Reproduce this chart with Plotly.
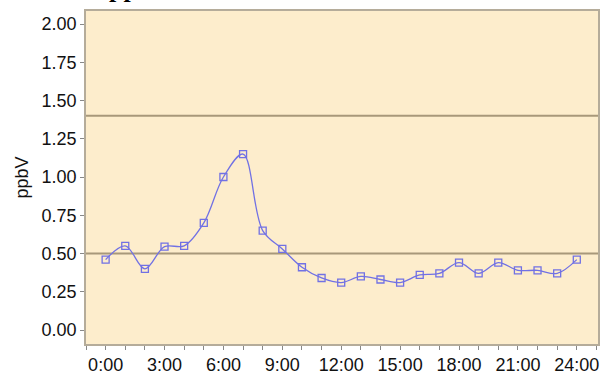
import plotly.graph_objects as go

# Hourly mean mixing ratio over one day
hours = list(range(0, 25))
ppbv = [0.46, 0.55, 0.40, 0.545, 0.55, 0.70, 1.00, 1.15, 0.65, 0.53,
        0.41, 0.34, 0.31, 0.35, 0.33, 0.31, 0.36, 0.37, 0.44, 0.37,
        0.44, 0.39, 0.39, 0.37, 0.46]

x_tick_vals = [0, 3, 6, 9, 12, 15, 18, 21, 24]
x_tick_text = ["0:00", "3:00", "6:00", "9:00", "12:00", "15:00", "18:00", "21:00", "24:00"]
y_tick_vals = [0, 0.25, 0.5, 0.75, 1.0, 1.25, 1.5, 1.75, 2.0]
y_tick_text = ["0.00", "0.25", "0.50", "0.75", "1.00", "1.25", "1.50", "1.75", "2.00"]

# Reference levels drawn across the plot
ref_levels = [0.5, 1.4]

line_col = "#7171E4"
font = dict(family="Arial, Liberation Sans, sans-serif", size=18, color="#111111")

fig = go.Figure()
fig.add_trace(go.Scatter(
    x=hours, y=ppbv, mode="lines+markers",
    line=dict(color=line_col, width=1.3, shape="spline", smoothing=1.0),
    marker=dict(symbol="square-open", size=7, color=line_col, line=dict(width=1.3)),
    showlegend=False,
))

for lvl in ref_levels:
    fig.add_shape(type="line", xref="paper", yref="y", x0=0, x1=1, y0=lvl, y1=lvl,
                  line=dict(color="#A8987A", width=2), layer="below")

# Heading sits above the page edge; only its lower part shows
fig.add_annotation(text="<b>pp</b>", xref="paper", yref="paper", x=0.041, y=1.0,
                   xanchor="left", yanchor="bottom", yshift=6, showarrow=False,
                   font=dict(family="Liberation Serif, Times New Roman, serif", size=26, color="#000000"))

fig.update_layout(
    width=607, height=377,
    margin=dict(l=86, r=9, t=11, b=33, autoexpand=False),
    paper_bgcolor="#FFFFFF",
    plot_bgcolor="#FDEDCC",
    font=font,
    xaxis=dict(
        range=[-1.0, 25.08], tickvals=x_tick_vals, ticktext=x_tick_text,
        ticks="outside", ticklen=4, tickcolor="#888888", tickwidth=1,
        minor=dict(dtick=1, tick0=0, ticks="outside", ticklen=4, tickcolor="#888888"),
        showgrid=False, zeroline=False, automargin=False,
        showline=True, mirror=True, linecolor="#B5AC9A", linewidth=1.5,
        tickfont=font,
    ),
    yaxis=dict(
        range=[-0.0915, 2.085], tickvals=y_tick_vals, ticktext=y_tick_text,
        ticks="outside", ticklen=4, tickcolor="#888888", tickwidth=1,
        showgrid=False, zeroline=False, automargin=False,
        showline=True, mirror=True, linecolor="#B5AC9A", linewidth=1.5,
        tickfont=font,
        title=dict(text="ppbV", font=font, standoff=8),
    ),
)

fig.write_html("out.html")
